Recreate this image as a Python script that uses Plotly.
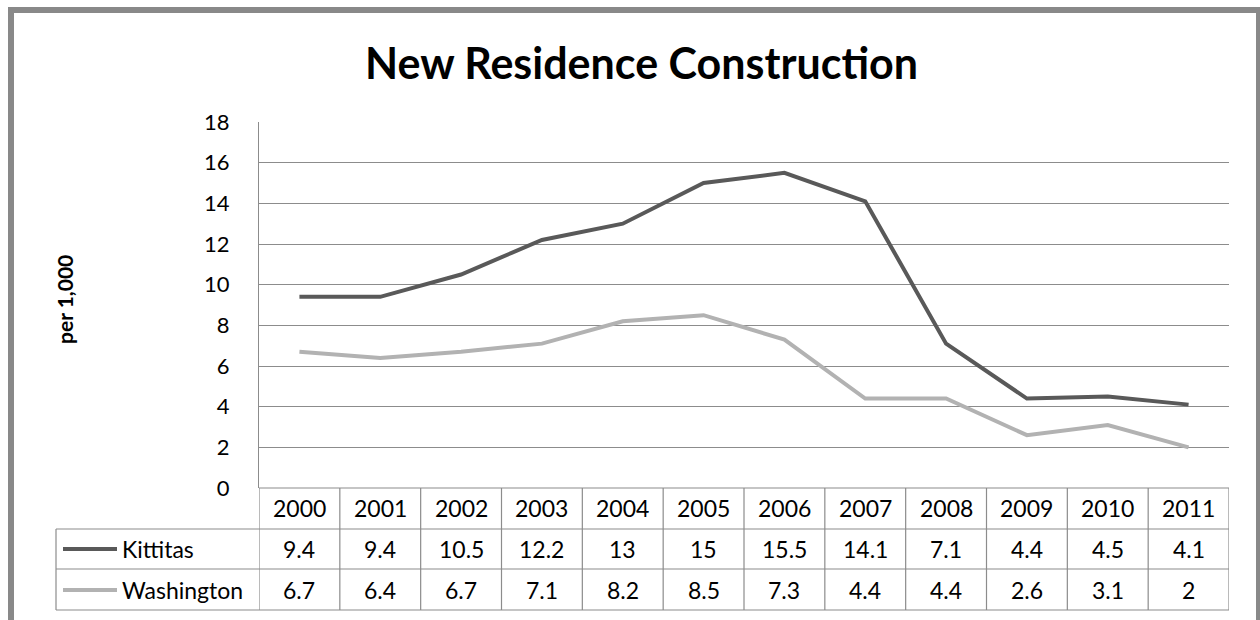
import plotly.graph_objects as go

years = ["2000", "2001", "2002", "2003", "2004", "2005", "2006", "2007", "2008", "2009", "2010", "2011"]
kittitas = [9.4, 9.4, 10.5, 12.2, 13, 15, 15.5, 14.1, 7.1, 4.4, 4.5, 4.1]
washington = [6.7, 6.4, 6.7, 7.1, 8.2, 8.5, 7.3, 4.4, 4.4, 2.6, 3.1, 2]
series_names = ["Kittitas", "Washington"]
series_colors = ["#595959", "#b2b2b2"]
y_ticks = [0, 2, 4, 6, 8, 10, 12, 14, 16, 18]

W, H = 1260, 620
L, R, T, B = 259, 31, 122, 132
pw, ph = W - L - R, H - T - B

def px(x):
    return (x - L) / pw

def py(y):
    return (H - B - y) / ph

FONT = "Lato"
GRID = "#8c8c8c"
TS = 23
xs = list(range(len(years)))

fig = go.Figure()
for name, vals, col in zip(series_names, [kittitas, washington], series_colors):
    fig.add_trace(go.Scatter(x=xs, y=vals, mode="lines", name=name,
                             line=dict(color=col, width=4), showlegend=False))

shapes = []
shapes.append(dict(type="rect", xref="paper", yref="paper",
                   x0=px(11), x1=px(1259), y0=py(10), y1=py(660),
                   line=dict(color="#898989", width=6), layer="below"))
row_y = [py(488), py(529), py(569), py(610)]
shapes.append(dict(type="line", xref="x", yref="paper", x0=-0.5, x1=len(years) - 0.5,
                   y0=row_y[0], y1=row_y[0], line=dict(color=GRID, width=1.2)))
for yy in row_y[1:]:
    shapes.append(dict(type="line", xref="paper", yref="paper", x0=px(56), x1=1,
                       y0=yy, y1=yy, line=dict(color=GRID, width=1.2)))
for i in range(len(years) + 1):
    shapes.append(dict(type="line", xref="x", yref="paper", x0=i - 0.5, x1=i - 0.5,
                       y0=row_y[0], y1=row_y[3], line=dict(color=GRID, width=1.2)))
shapes.append(dict(type="line", xref="paper", yref="paper", x0=px(56), x1=px(56),
                   y0=row_y[1], y1=row_y[3], line=dict(color=GRID, width=1.2)))

annotations = []
row_centers = [py(508), py(549), py(590)]

def txt(x, y, text, xref="x", xanchor="center", size=TS, angle=0):
    return dict(x=x, y=y, xref=xref, yref="paper", text=text, showarrow=False,
                xanchor=xanchor, yanchor="middle", textangle=angle,
                font=dict(size=size, color="#000000", family=FONT))

for i, yr in enumerate(years):
    annotations.append(txt(i, row_centers[0], yr))
for r, vals in enumerate([kittitas, washington]):
    for i, v in enumerate(vals):
        annotations.append(txt(i, row_centers[r + 1], f"{v:g}"))
    shapes.append(dict(type="line", xref="paper", yref="paper", x0=px(63), x1=px(117),
                       y0=row_centers[r + 1], y1=row_centers[r + 1],
                       line=dict(color=series_colors[r], width=4)))
    annotations.append(txt(px(120), row_centers[r + 1], series_names[r], xref="paper",
                           xanchor="left"))

annotations.append(txt(px(64), py(300), "<b>per 1,000</b>", xref="paper", size=21, angle=-90))
annotations.append(txt(px(641), py(62), "<b>New Residence Construction</b>", xref="paper", size=43))

fig.update_layout(
    width=W, height=H,
    margin=dict(l=L, r=R, t=T, b=B, pad=0),
    paper_bgcolor="#ffffff", plot_bgcolor="#ffffff",
    shapes=shapes, annotations=annotations,
    xaxis=dict(range=[-0.5, len(years) - 0.5], showticklabels=False, showgrid=False,
               zeroline=False, showline=False, ticks="", automargin=False),
    yaxis=dict(range=[0, 18], tickvals=y_ticks, showgrid=True, gridcolor=GRID, gridwidth=1.2,
               zeroline=False, showline=True, linecolor=GRID, linewidth=1.2,
               ticks="", ticklabelstandoff=24, automargin=False,
               tickfont=dict(size=22, color="#000000", family=FONT)),
)

fig.write_html("out.html", config={"displayModeBar": False},
               post_script="document.body.style.margin='0';document.body.style.padding='0';")
